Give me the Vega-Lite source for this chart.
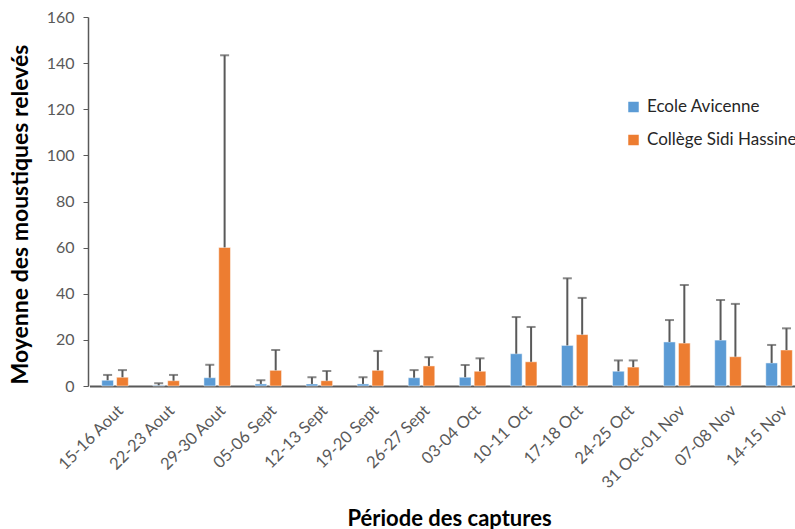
{
  "$schema": "https://vega.github.io/schema/vega-lite/v6.json",
  "width": 707,
  "height": 369,
  "autosize": {"type": "none"},
  "padding": {"left": 88, "top": 17, "right": 0, "bottom": 143},
  "background": "white",
  "config": {
    "view": {"stroke": null},
    "font": "Lato",
    "axis": {"labelFont": "Lato", "titleFont": "Lato"},
    "legend": {"labelFont": "Lato"}
  },
  "data": {
    "values": [
      {"period": "15-16 Aout", "site": "Ecole Avicenne", "mean": 2.5, "upper": 4.8},
      {"period": "15-16 Aout", "site": "Collège Sidi Hassine", "mean": 3.8, "upper": 6.9},
      {"period": "22-23 Aout", "site": "Ecole Avicenne", "mean": 0.3, "upper": 1.2},
      {"period": "22-23 Aout", "site": "Collège Sidi Hassine", "mean": 2.3, "upper": 4.8},
      {"period": "29-30 Aout", "site": "Ecole Avicenne", "mean": 3.6, "upper": 9.2},
      {"period": "29-30 Aout", "site": "Collège Sidi Hassine", "mean": 60.1, "upper": 143.4},
      {"period": "05-06 Sept", "site": "Ecole Avicenne", "mean": 0.9, "upper": 2.5},
      {"period": "05-06 Sept", "site": "Collège Sidi Hassine", "mean": 6.8, "upper": 15.6},
      {"period": "12-13 Sept", "site": "Ecole Avicenne", "mean": 0.9, "upper": 3.8},
      {"period": "12-13 Sept", "site": "Collège Sidi Hassine", "mean": 2.3, "upper": 6.5},
      {"period": "19-20 Sept", "site": "Ecole Avicenne", "mean": 0.9, "upper": 3.8},
      {"period": "19-20 Sept", "site": "Collège Sidi Hassine", "mean": 6.8, "upper": 15.2},
      {"period": "26-27 Sept", "site": "Ecole Avicenne", "mean": 3.6, "upper": 6.9},
      {"period": "26-27 Sept", "site": "Collège Sidi Hassine", "mean": 8.7, "upper": 12.5},
      {"period": "03-04 Oct", "site": "Ecole Avicenne", "mean": 3.8, "upper": 9.1},
      {"period": "03-04 Oct", "site": "Collège Sidi Hassine", "mean": 6.4, "upper": 12.0},
      {"period": "10-11 Oct", "site": "Ecole Avicenne", "mean": 14.0, "upper": 29.9},
      {"period": "10-11 Oct", "site": "Collège Sidi Hassine", "mean": 10.5, "upper": 25.6},
      {"period": "17-18 Oct", "site": "Ecole Avicenne", "mean": 17.6, "upper": 46.7},
      {"period": "17-18 Oct", "site": "Collège Sidi Hassine", "mean": 22.3, "upper": 38.2},
      {"period": "24-25 Oct", "site": "Ecole Avicenne", "mean": 6.4, "upper": 11.1},
      {"period": "24-25 Oct", "site": "Collège Sidi Hassine", "mean": 8.2, "upper": 11.1},
      {"period": "31 Oct-01 Nov", "site": "Ecole Avicenne", "mean": 19.1, "upper": 28.6},
      {"period": "31 Oct-01 Nov", "site": "Collège Sidi Hassine", "mean": 18.6, "upper": 43.8},
      {"period": "07-08 Nov", "site": "Ecole Avicenne", "mean": 19.9, "upper": 37.3},
      {"period": "07-08 Nov", "site": "Collège Sidi Hassine", "mean": 12.7, "upper": 35.6},
      {"period": "14-15 Nov", "site": "Ecole Avicenne", "mean": 10.0, "upper": 17.8},
      {"period": "14-15 Nov", "site": "Collège Sidi Hassine", "mean": 15.6, "upper": 25.0}
    ]
  },
  "encoding": {
    "x": {
      "field": "period",
      "type": "nominal",
      "sort": null,
      "scale": {"range": [1.5, 716.6], "paddingInner": 0.48, "paddingOuter": 0.24},
      "axis": {
        "title": "Période des captures",
        "titleFontSize": 22,
        "titleFontWeight": "bold",
        "titleColor": "#000000",
        "titleX": 361,
        "titleY": 132,
        "titleBaseline": "middle",
        "titleAlign": "center",
        "labelAngle": -45,
        "labelFontSize": 16.5,
        "labelColor": "#595959",
        "labelPadding": 16,
        "ticks": false,
        "domainColor": "#595959",
        "domainWidth": 2
      }
    },
    "xOffset": {
      "field": "site",
      "type": "nominal",
      "sort": ["Ecole Avicenne", "Collège Sidi Hassine"],
      "scale": {"paddingInner": 0.21, "paddingOuter": 0}
    }
  },
  "layer": [
    {
      "mark": {"type": "bar", "stroke": "white", "strokeWidth": 0.5},
      "encoding": {
        "y": {
          "field": "mean",
          "type": "quantitative",
          "scale": {"domain": [0, 160], "nice": false},
          "axis": {
            "title": "Moyenne des moustiques relevés",
            "titleFontSize": 23,
            "titleFontWeight": "bold",
            "titleColor": "#000000",
            "titleX": -68,
            "titleY": 197,
            "titleAngle": -90,
            "titleBaseline": "middle",
            "titleAlign": "center",
            "values": [0, 20, 40, 60, 80, 100, 120, 140, 160],
            "labelFontSize": 16,
            "labelColor": "#595959",
            "labelPadding": 9,
            "tickSize": 5,
            "tickColor": "#595959",
            "domainColor": "#595959",
            "domainWidth": 1.5,
            "grid": false
          }
        },
        "color": {
          "field": "site",
          "type": "nominal",
          "sort": ["Ecole Avicenne", "Collège Sidi Hassine"],
          "scale": {"domain": ["Ecole Avicenne", "Collège Sidi Hassine"], "range": ["#5B9BD5", "#ED7D31"]},
          "legend": {
            "title": null,
            "orient": "none",
            "legendX": 537,
            "legendY": 81.5,
            "symbolType": "square",
            "symbolSize": 110,
            "symbolStrokeWidth": 0,
            "labelFontSize": 17,
            "labelColor": "#262626",
            "rowPadding": 15,
            "padding": 0,
            "labelOffset": 5
          }
        }
      }
    },
    {
      "mark": {"type": "rule", "color": "#595959", "strokeWidth": 2},
      "encoding": {
        "y": {"field": "mean", "type": "quantitative"},
        "y2": {"field": "upper"}
      }
    },
    {
      "mark": {"type": "tick", "color": "#595959", "thickness": 2, "size": 9, "orient": "horizontal"},
      "encoding": {
        "y": {"field": "upper", "type": "quantitative"}
      }
    }
  ]
}
